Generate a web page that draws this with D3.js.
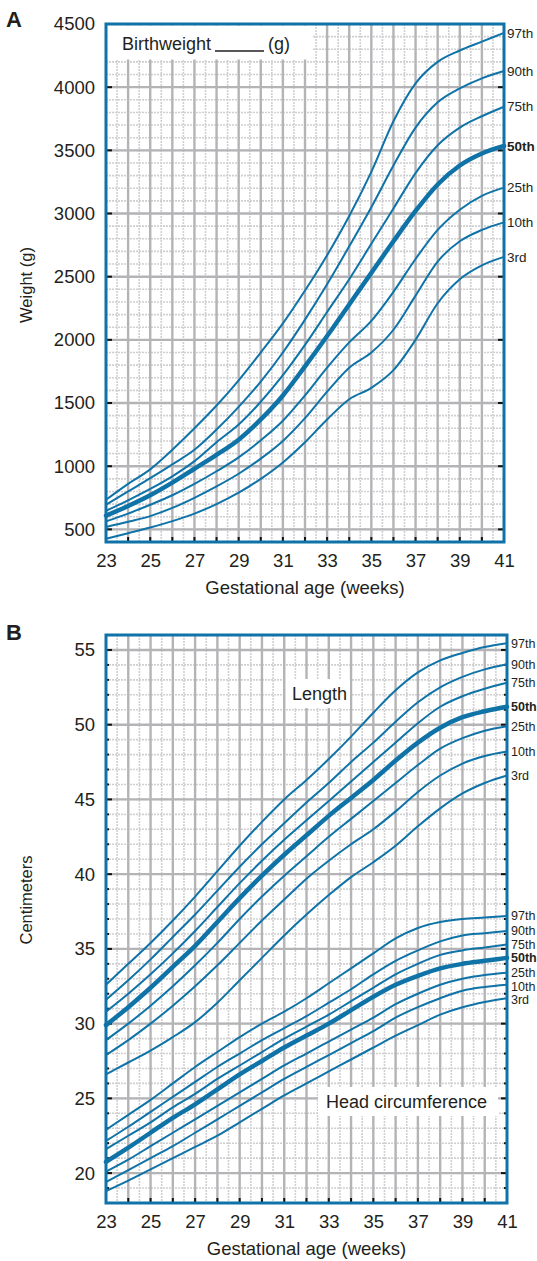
<!DOCTYPE html>
<html>
<head>
<meta charset="utf-8">
<script src="https://cdn.jsdelivr.net/npm/d3@7"></script>
<style>
  body { margin: 0; background: #fff; }
  svg text { font-family: "Liberation Sans", Arial, sans-serif; fill: #231f20; }
</style>
</head>
<body>
<svg id="canvas" width="537" height="1261"></svg>
<script>
// gestational age, weeks
const weeks = d3.range(23, 42);
const pctLabels = ["97th", "90th", "75th", "50th", "25th", "10th", "3rd"];

// A: birthweight (g) per percentile
const w97 = [734, 860, 975, 1130, 1300, 1480, 1680, 1900, 2130, 2390, 2670, 2980, 3330, 3730, 4030, 4200, 4290, 4360, 4430];
const w90 = [694, 800, 905, 1015, 1130, 1290, 1470, 1670, 1900, 2160, 2440, 2740, 3050, 3380, 3680, 3880, 3990, 4070, 4128];
const w75 = [647, 730, 820, 920, 1040, 1190, 1330, 1510, 1720, 1960, 2220, 2480, 2760, 3040, 3320, 3540, 3680, 3770, 3845];
const w50 = [608, 685, 770, 870, 980, 1090, 1210, 1370, 1560, 1790, 2030, 2280, 2530, 2780, 3020, 3230, 3380, 3475, 3535];
const w25 = [563, 625, 695, 770, 860, 960, 1070, 1205, 1360, 1560, 1780, 1980, 2150, 2380, 2640, 2870, 3030, 3140, 3205];
const w10 = [519, 560, 605, 670, 750, 840, 940, 1060, 1200, 1380, 1590, 1780, 1900, 2080, 2350, 2620, 2780, 2870, 2930];
const w03 = [426, 470, 515, 565, 625, 700, 790, 900, 1030, 1190, 1370, 1530, 1620, 1760, 2000, 2290, 2480, 2590, 2657];

// B: length (cm)
const l97 = [32.6, 34.0, 35.4, 36.9, 38.5, 40.2, 41.9, 43.5, 45.0, 46.3, 47.7, 49.2, 50.8, 52.3, 53.5, 54.3, 54.8, 55.2, 55.45];
const l90 = [31.6, 32.9, 34.3, 35.8, 37.3, 38.9, 40.5, 42.0, 43.4, 44.8, 46.1, 47.5, 48.8, 50.2, 51.5, 52.5, 53.2, 53.7, 54.05];
const l75 = [30.8, 32.0, 33.3, 34.7, 36.2, 37.8, 39.4, 40.9, 42.3, 43.6, 44.9, 46.2, 47.5, 48.8, 50.1, 51.2, 51.9, 52.4, 52.8];
const l50 = [29.9, 31.1, 32.4, 33.8, 35.2, 36.8, 38.4, 39.9, 41.3, 42.6, 43.9, 45.1, 46.3, 47.6, 48.8, 49.8, 50.5, 50.9, 51.2];
const l25 = [28.9, 30.0, 31.2, 32.5, 33.9, 35.4, 37.0, 38.5, 39.9, 41.2, 42.5, 43.7, 44.9, 46.1, 47.3, 48.4, 49.1, 49.6, 49.9];
const l10 = [27.9, 28.9, 30.0, 31.2, 32.5, 33.9, 35.4, 36.9, 38.3, 39.7, 40.9, 42.0, 43.0, 44.2, 45.5, 46.6, 47.4, 47.9, 48.2];
const l03 = [26.6, 27.4, 28.2, 29.1, 30.1, 31.4, 32.9, 34.4, 35.9, 37.3, 38.6, 39.8, 40.8, 41.9, 43.2, 44.4, 45.4, 46.1, 46.6];

// B: head circumference (cm)
const h97 = [22.9, 23.9, 24.9, 26.0, 27.1, 28.1, 29.1, 30.0, 30.8, 31.7, 32.7, 33.7, 34.7, 35.7, 36.4, 36.8, 37.0, 37.1, 37.2];
const h90 = [22.15, 23.1, 24.1, 25.1, 26.1, 27.1, 28.0, 28.9, 29.7, 30.5, 31.4, 32.3, 33.3, 34.2, 34.9, 35.5, 35.9, 36.05, 36.2];
const h75 = [21.6, 22.5, 23.4, 24.4, 25.3, 26.3, 27.2, 28.1, 29.0, 29.8, 30.6, 31.5, 32.4, 33.3, 34.0, 34.6, 34.9, 35.1, 35.3];
const h50 = [20.75, 21.7, 22.7, 23.7, 24.6, 25.6, 26.6, 27.5, 28.4, 29.2, 30.0, 30.9, 31.8, 32.6, 33.2, 33.7, 34.0, 34.2, 34.4];
const h25 = [20.1, 20.9, 21.8, 22.7, 23.6, 24.5, 25.4, 26.3, 27.2, 28.0, 28.8, 29.6, 30.4, 31.3, 32.0, 32.6, 33.0, 33.25, 33.4];
const h10 = [19.4, 20.2, 21.0, 21.8, 22.7, 23.6, 24.5, 25.4, 26.3, 27.1, 27.9, 28.7, 29.5, 30.4, 31.1, 31.7, 32.2, 32.45, 32.6];
const h03 = [18.8, 19.5, 20.25, 21.0, 21.75, 22.5, 23.4, 24.3, 25.2, 26.0, 26.8, 27.6, 28.4, 29.2, 29.9, 30.6, 31.1, 31.45, 31.7];

const weightTicks = [500, 1000, 1500, 2000, 2500, 3000, 3500, 4000, 4500];
const cmTicks = [20, 25, 30, 35, 40, 45, 50, 55];
const weekTicks = [23, 25, 27, 29, 31, 33, 35, 37, 39, 41];

const blue = "#0f73a8";
const svg = d3.select("#canvas");

function panel(opt) {
  const x = d3.scaleLinear().domain([23, 41]).range(opt.xr);
  const y = d3.scaleLinear().domain(opt.yd).range(opt.yr);
  const g = svg.append("g");
  const x0 = opt.xr[0], x1 = opt.xr[1], y0 = opt.yr[1], y1 = opt.yr[0];

  // grid
  const grid = g.append("g");
  grid.selectAll(".vminor").data(d3.range(23.5, 41, 1)).join("line")
    .attr("x1", d => x(d)).attr("x2", d => x(d)).attr("y1", y0).attr("y2", y1)
    .attr("stroke", "#d0d0d2").attr("stroke-width", 1.6).attr("stroke-dasharray", "2,1");
  grid.selectAll(".hminor").data(opt.minor).join("line")
    .attr("x1", x0).attr("x2", x1).attr("y1", d => y(d)).attr("y2", d => y(d))
    .attr("stroke", "#d0d0d2").attr("stroke-width", 1.6).attr("stroke-dasharray", "2,1");
  grid.selectAll(".vmajor").data(d3.range(24, 41)).join("line")
    .attr("x1", d => x(d)).attr("x2", d => x(d)).attr("y1", y0).attr("y2", y1)
    .attr("stroke", "#b4b4b7").attr("stroke-width", 2.4);
  grid.selectAll(".hmajor").data(opt.major).join("line")
    .attr("x1", x0).attr("x2", x1).attr("y1", d => y(d)).attr("y2", d => y(d))
    .attr("stroke", "#b4b4b7").attr("stroke-width", 2.4);

  // white label boxes over the grid
  (opt.boxes || []).forEach(b => {
    g.append("rect").attr("x", b.x).attr("y", b.y).attr("width", b.w).attr("height", b.h).attr("fill", "#fff");
    g.append("text").attr("x", b.tx).attr("y", b.ty).attr("font-size", 18).text(b.text);
    if (b.line) g.append("line").attr("x1", b.line[0]).attr("x2", b.line[1])
      .attr("y1", b.ty + 1).attr("y2", b.ty + 1).attr("stroke", "#231f20").attr("stroke-width", 1.4);
    if (b.text2) g.append("text").attr("x", b.tx2).attr("y", b.ty).attr("font-size", 18).text(b.text2);
  });

  // black tick marks inside frame
  const tk = g.append("g").attr("stroke", "#111");
  tk.selectAll(".bt").data(d3.range(24, 41)).join("line")
    .attr("x1", d => x(d)).attr("x2", d => x(d)).attr("y1", y1).attr("y2", y1 - 5).attr("stroke-width", 2);
  tk.selectAll(".lt").data(opt.markTicks).join("line")
    .attr("x1", x0).attr("x2", d => x0 + (d.big ? 6 : 3)).attr("y1", d => y(d.v)).attr("y2", d => y(d.v))
    .attr("stroke-width", 2);
  tk.selectAll(".rt").data(opt.markTicks).join("line")
    .attr("x1", x1).attr("x2", d => x1 - (d.big ? 6 : 3)).attr("y1", d => y(d.v)).attr("y2", d => y(d.v))
    .attr("stroke-width", 2);

  // curves
  const line = d3.line().x((d, i) => x(weeks[i])).y(d => y(d)).curve(d3.curveMonotoneX);
  const cg = g.append("g").attr("fill", "none").attr("stroke", blue);
  opt.sets.forEach(set => {
    cg.selectAll(null).data(set).join("path")
      .attr("d", d => line(d))
      .attr("stroke-width", (d, i) => i === 3 ? 4.5 : 2)
      .attr("stroke-linecap", "round");

    // percentile labels with a bit of spacing
    let ys = set.map(s => y(s[s.length - 1]));
    for (let i = 1; i < ys.length; i++) if (ys[i] - ys[i - 1] < opt.gap) ys[i] = ys[i - 1] + opt.gap;
    g.append("g").selectAll("text").data(pctLabels).join("text")
      .attr("x", x1 + opt.lblDx).attr("y", (d, i) => ys[i]).attr("dy", "0.35em")
      .attr("font-size", opt.lblSize).attr("font-weight", (d, i) => i === 3 ? "bold" : null)
      .text(d => d);
  });

  // frame
  g.append("rect").attr("x", x0).attr("y", y0).attr("width", x1 - x0).attr("height", y1 - y0)
    .attr("fill", "none").attr("stroke", blue).attr("stroke-width", 3);

  // axes (labels only)
  const ax = g.append("g").attr("transform", `translate(0,${y1 + 9})`)
    .call(d3.axisBottom(x).tickValues(weekTicks).tickSize(0).tickFormat(d3.format("d")));
  ax.select(".domain").remove();
  ax.selectAll("text").attr("font-size", 18.5).attr("fill", "#231f20").attr("font-family", null);

  const ay = g.append("g").attr("transform", `translate(${x0 - 8},0)`)
    .call(d3.axisLeft(y).tickValues(opt.yTicks).tickSize(0).tickFormat(d3.format("d")));
  ay.select(".domain").remove();
  ay.selectAll("text").attr("font-size", 18.5).attr("fill", "#231f20").attr("font-family", null);

  g.append("text").attr("x", (x0 + x1) / 2).attr("y", y1 + 52).attr("text-anchor", "middle")
    .attr("font-size", 18.5).text("Gestational age (weeks)");
  g.append("text").attr("transform", `translate(32,${opt.titleY}) rotate(-90)`)
    .attr("text-anchor", "middle").attr("font-size", 16.5).text(opt.title);
  g.append("text").attr("x", 6).attr("y", opt.letterY).attr("font-size", 22)
    .attr("font-weight", "bold").text(opt.letter);
}

panel({
  xr: [106, 504], yd: [400, 4500], yr: [542, 24],
  major: d3.range(500, 4500, 500),
  minor: d3.range(500, 4500, 100),
  markTicks: d3.range(500, 4500, 500).map(v => ({ v: v, big: true })),
  yTicks: weightTicks,
  sets: [[w97, w90, w75, w50, w25, w10, w03]],
  gap: 12, lblDx: 3, lblSize: 13.5,
  boxes: [{ x: 107.5, y: 25.5, w: 205, h: 34, tx: 122, ty: 50, text: "Birthweight",
            line: [215, 264], text2: "(g)", tx2: 268 }],
  title: "Weight (g)", titleY: 285, letter: "A", letterY: 27
});

panel({
  xr: [106, 507], yd: [18, 56], yr: [1203, 635],
  major: d3.range(20, 56, 5),
  minor: d3.range(19, 56, 1),
  markTicks: d3.range(19, 56, 1).map(v => ({ v: v, big: v % 5 === 0 })),
  yTicks: cmTicks,
  sets: [[l97, l90, l75, l50, l25, l10, l03], [h97, h90, h75, h50, h25, h10, h03]],
  gap: 13.5, lblDx: 4, lblSize: 12.5,
  boxes: [{ x: 286, y: 679, w: 64, h: 29, tx: 292, ty: 700, text: "Length" },
          { x: 318, y: 1087, w: 180, h: 29, tx: 326, ty: 1108, text: "Head circumference" }],
  title: "Centimeters", titleY: 900, letter: "B", letterY: 640
});
</script>
</body>
</html>
